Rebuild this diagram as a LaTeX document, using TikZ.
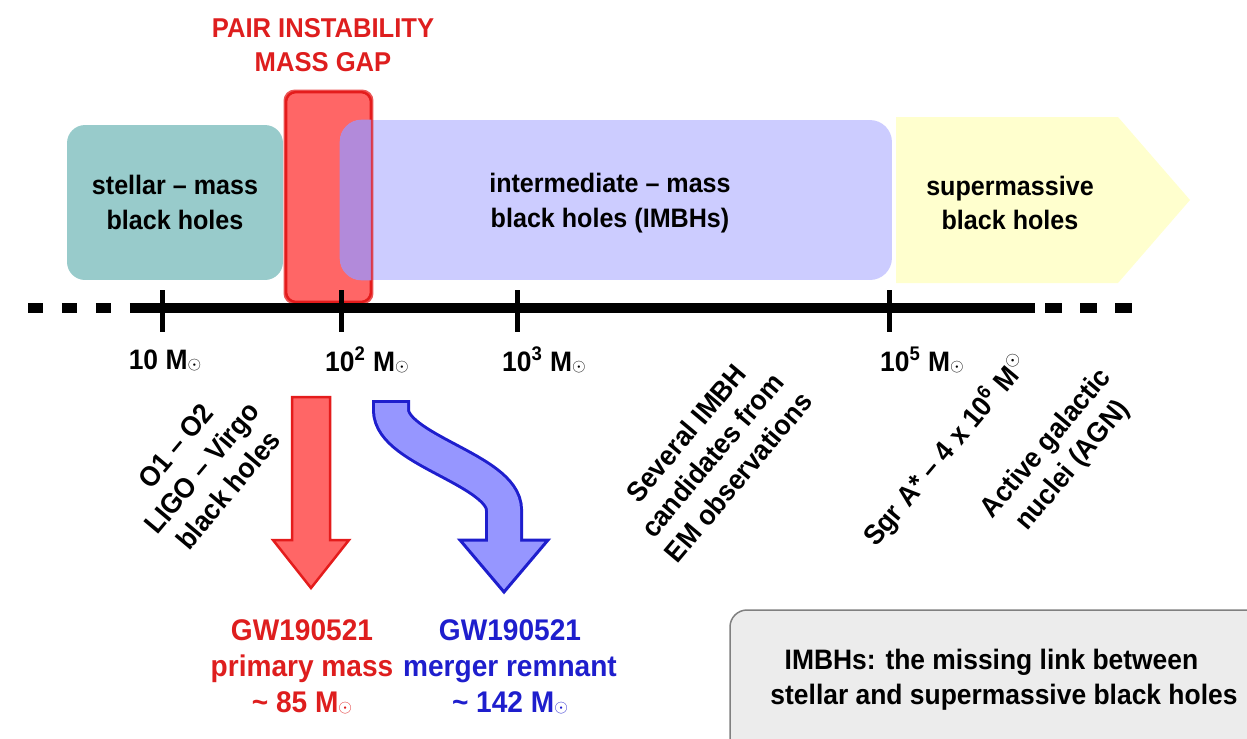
\documentclass[tikz,border=0pt]{standalone}
\usepackage{fontspec}
\setmainfont{Liberation Sans}[FakeStretch=0.94]
\usetikzlibrary{positioning,calc,arrows.meta}

\definecolor{stellarteal}{RGB}{152,203,203}
\definecolor{gapred}{RGB}{255,102,102}
\definecolor{gapedge}{RGB}{228,28,28}
\definecolor{imbhblue}{RGB}{204,204,255}
\definecolor{overlapviolet}{RGB}{178,138,218}
\definecolor{smbhyellow}{RGB}{255,255,206}
\definecolor{txtred}{RGB}{222,30,30}
\definecolor{txtblue}{RGB}{30,30,205}
\definecolor{remnantblue}{RGB}{150,150,255}
\definecolor{notegray}{RGB}{236,236,236}

\newcommand{\msun}{M{\fontsize{10}{10}\selectfont$\odot$}}

\begin{document}
\begin{tikzpicture}[x=0.02cm, y=-0.02cm,
	every node/.style={align=center, inner sep=1pt, font=\fontsize{16}{20}\selectfont\bfseries},
	boxtext/.style={font=\fontsize{15.2}{19.6}\selectfont\bfseries},
	band/.style={rounded corners=0.36cm, inner sep=0pt},
	slanted/.style={rotate=50, font=\fontsize{16}{19.5}\selectfont\bfseries},
	gwtext/.style={font=\fontsize{17}{20.5}\selectfont\bfseries},
	axisline/.style={line width=0.2cm},
	tick/.style={line width=0.1cm}]

	\clip (0,0) rectangle (1247,738);

	\node[band, boxtext, fill=stellarteal, minimum width=4.32cm, minimum height=3.1cm] (stellar) at (175,202.5) {stellar -- mass\\black holes};
	\node[band, rounded corners=0.2cm, fill=gapred, draw=gapedge, line width=0.05cm, minimum width=1.7cm, minimum height=4.2cm] (gap) at (328.5,197) {};
	\node[band, rounded corners=0.44cm, fill=imbhblue, minimum width=11.04cm, minimum height=3.2cm] (imbh) at (616,200) {};
	\begin{scope}
		\clip[rounded corners=0.2cm] (gap.south west) rectangle (gap.north east);
		\fill[overlapviolet, rounded corners=0.44cm] (imbh.south west) rectangle (imbh.north east);
	\end{scope}
	\draw[gapedge, line width=0.05cm, rounded corners=0.2cm, draw opacity=0.75] (gap.south west) rectangle (gap.north east);
	\node[boxtext] (imbhtxt) at (610,203) {intermediate -- mass\\black holes (IMBHs)};

	\fill[smbhyellow] (896,117) -- (1118,117) -- (1190,200) -- (1118,283) -- (896,283) -- cycle;
	\node[boxtext] (smbh) at (1010,203) {supermassive\\black holes};

	\node[text=txtred, font=\fontsize{15.5}{19.5}\selectfont\bfseries] (pisn) at (323,45) {PAIR INSTABILITY\\MASS GAP};

	% mass axis
	\coordinate (axl) at (132,308);
	\coordinate (axr) at (1035,308);
	\draw[axisline] (axl) -- (axr);
	\draw[axisline, dash pattern=on 0.3cm off 0.38cm] (28,308) -- (axl);
	\draw[axisline, dash pattern=on 0.34cm off 0.36cm] ($(axr)+(10,0)$) -- (1132,308);
	\foreach \x in {162,341,517,889}
		\draw[tick] (\x,290) -- (\x,332);

	\node (m1) at (165,360) {10 \msun};
	\node (m2) at (367,360) {10\textsuperscript{2} \msun};
	\node (m3) at (544,360) {10\textsuperscript{3} \msun};
	\node (m5) at (922,360) {10\textsuperscript{5} \msun};

	\node[slanted] (lvk)  at (202,468) {O1 -- O2\\LIGO -- Virgo\\black holes};
	\node[slanted] (em)   at (712,455) {Several IMBH\\candidates from\\EM observations};
	\node[slanted] (sgra) at (946,450) {Sgr A* -- 4 x 10\textsuperscript{6} M\textsuperscript{$\odot$}};
	\node[slanted] (agn)  at (1060,455) {Active galactic\\nuclei (AGN)};

	% GW190521 arrows
	\filldraw[fill=gapred, draw=gapedge, line width=0.05cm, line join=miter]
		(292,397) -- (330,397) -- (330,540) -- (349,540) -- (311,588) -- (273,540) -- (292,540) -- cycle;
	\draw[txtblue, line width=0.76cm] (391,400) -- (391,410) .. controls (391,450) and (504,470) .. (504,510) -- (504,541);
	\filldraw[fill=remnantblue, draw=txtblue, line width=0.06cm, line join=miter] (460,540) -- (548,540) -- (504,592) -- cycle;
	\draw[remnantblue, line width=0.64cm] (391,403) -- (391,410) .. controls (391,450) and (504,470) .. (504,510) -- (504,542);

	\node[gwtext, text=txtred]  (prim) at (302,667) {GW190521\\primary mass\\\textasciitilde{} 85 \msun};
	\node[gwtext, text=txtblue] (rem)  at (510,667) {GW190521\\merger remnant\\\textasciitilde{} 142 \msun};

	\filldraw[fill=notegray, draw=gray, line width=0.03cm, rounded corners=0.34cm] (730,610) rectangle (1320,800);
	\node (note) at (1004,680) {IMBHs: the missing link between\hspace*{0.5cm}\\stellar and supermassive black holes};
\end{tikzpicture}
\end{document}
